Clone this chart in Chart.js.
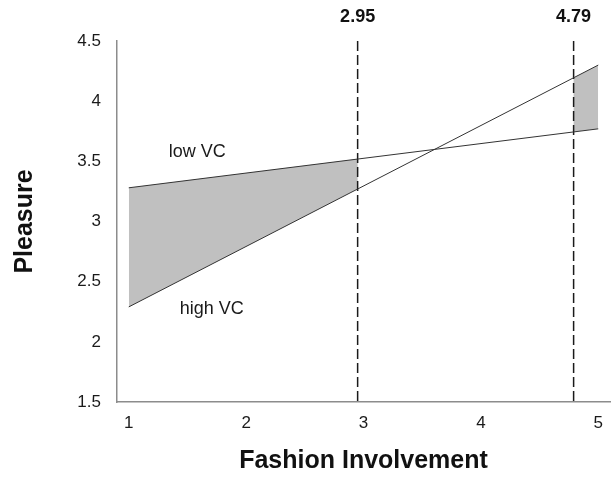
<!DOCTYPE html>
<html>
<head>
<meta charset="utf-8">
<script src="https://cdn.jsdelivr.net/npm/chart.js@4"></script>
<style>
  html, body { margin: 0; padding: 0; background: #ffffff; }
  #wrap { width: 611px; height: 484px; }
</style>
</head>
<body>
<div id="wrap"><canvas id="c" width="611" height="484"></canvas></div>
<script>
// Simple slopes of Pleasure on Fashion Involvement at low / high VC
const involvement = [1, 5];
const lowVC = [3.28, 3.77];
const highVC = [2.29, 4.30];
// Johnson-Neyman boundaries of the significance regions
const cutoffs = [2.95, 4.79];
const xTicks = [1, 2, 3, 4, 5];
const yTicks = [1.5, 2, 2.5, 3, 3.5, 4, 4.5];
const seriesNames = ['low VC', 'high VC'];

const FONT = '"Liberation Sans", Arial, Helvetica, sans-serif';
const SHADE_INDEX = 4;

const toPoints = (xs, ys) => xs.map((x, i) => ({ x, y: ys[i] }));

// Fixed axis box sizes, without extra room reserved for edge labels
const fixHeight = h => s => { s.height = h; s.paddingLeft = 0; s.paddingRight = 0; };

// Restrict the shaded band between the two slopes to the significance regions
const shadeClip = {
  id: 'shadeClip',
  beforeDatasetsDraw(chart) {
    const { ctx, chartArea, scales: { x } } = chart;
    const x0 = x.getPixelForValue(involvement[0]);
    const x1 = x.getPixelForValue(involvement[involvement.length - 1]);
    const a = x.getPixelForValue(cutoffs[0]);
    const b = x.getPixelForValue(cutoffs[1]);
    ctx.save();
    ctx.beginPath();
    ctx.rect(x0, chartArea.top, a - x0, chartArea.height);
    ctx.rect(b, chartArea.top, x1 - b, chartArea.height);
    ctx.clip();
  },
  afterDatasetDraw(chart, args) {
    if (args.index === SHADE_INDEX) chart.ctx.restore();
  }
};

// Series names written next to their lines
const lineLabels = {
  id: 'lineLabels',
  afterDatasetsDraw(chart) {
    const { ctx, scales: { x, y } } = chart;
    const anchors = [
      { text: seriesNames[0], x: 1.34, y: 3.58 },
      { text: seriesNames[1], x: 1.435, y: 2.27 }
    ];
    ctx.save();
    ctx.font = '18px ' + FONT;
    ctx.fillStyle = '#1a1a1a';
    ctx.textAlign = 'left';
    ctx.textBaseline = 'middle';
    anchors.forEach(a => ctx.fillText(a.text, x.getPixelForValue(a.x), y.getPixelForValue(a.y)));
    ctx.restore();
  }
};

const yMin = yTicks[0];
const yMax = yTicks[yTicks.length - 1];

new Chart(document.getElementById('c'), {
  type: 'scatter',
  data: {
    datasets: [
      {
        label: seriesNames[0],
        data: toPoints(involvement, lowVC),
        showLine: true,
        borderColor: '#333333',
        borderWidth: 1,
        pointRadius: 0,
        fill: false
      },
      {
        label: seriesNames[1],
        data: toPoints(involvement, highVC),
        showLine: true,
        borderColor: '#333333',
        borderWidth: 1,
        pointRadius: 0,
        fill: false
      },
      {
        label: String(cutoffs[0]),
        data: [{ x: cutoffs[0], y: yMax }, { x: cutoffs[0], y: yMin }],
        showLine: true,
        borderColor: '#1a1a1a',
        borderWidth: 1.5,
        borderDash: [10, 4],
        pointRadius: 0,
        fill: false
      },
      {
        label: String(cutoffs[1]),
        data: [{ x: cutoffs[1], y: yMax }, { x: cutoffs[1], y: yMin }],
        showLine: true,
        borderColor: '#1a1a1a',
        borderWidth: 1.5,
        borderDash: [10, 4],
        pointRadius: 0,
        fill: false
      },
      {
        label: 'region',
        data: toPoints(involvement, lowVC),
        showLine: true,
        borderWidth: 0,
        borderColor: 'rgba(0,0,0,0)',
        backgroundColor: '#c0c0c0',
        pointRadius: 0,
        fill: 1
      }
    ]
  },
  options: {
    responsive: false,
    animation: false,
    layout: { padding: { left: 0, right: 1, top: 0, bottom: 0 } },
    plugins: {
      legend: { display: false },
      tooltip: { enabled: false },
      filler: { propagate: false }
    },
    scales: {
      x: {
        type: 'linear',
        position: 'bottom',
        min: 0.9,
        max: 5.1,
        afterBuildTicks: s => { s.ticks = xTicks.map(v => ({ value: v })); },
        afterFit: fixHeight(82),
        grid: { display: false, drawTicks: false },
        border: { display: true, color: '#8c8c8c', width: 1.5 },
        ticks: { color: '#1a1a1a', font: { family: FONT, size: 17 }, padding: 11, maxRotation: 0, callback: v => String(v) },
        title: {
          display: true,
          text: 'Fashion Involvement',
          color: '#111111',
          font: { family: FONT, size: 25, weight: 'bold' },
          padding: { top: 0, bottom: 8 }
        }
      },
      x2: {
        type: 'linear',
        position: 'top',
        min: 0.9,
        max: 5.1,
        afterBuildTicks: s => { s.ticks = cutoffs.map(v => ({ value: v })); },
        afterFit: fixHeight(41),
        grid: { display: false, drawTicks: false },
        border: { display: false },
        ticks: {
          color: '#111111',
          font: { family: FONT, size: 18, weight: 'bold' },
          padding: 13,
          maxRotation: 0,
          callback: v => Number(v).toFixed(2)
        }
      },
      y: {
        type: 'linear',
        position: 'left',
        min: yMin,
        max: yMax,
        afterBuildTicks: s => { s.ticks = yTicks.map(v => ({ value: v })); },
        afterFit: s => { s.width = 117; s.paddingTop = 0; s.paddingBottom = 0; },
        grid: { display: false, drawTicks: false },
        border: { display: true, color: '#8c8c8c', width: 1.5 },
        ticks: { color: '#1a1a1a', font: { family: FONT, size: 17 }, padding: 16, callback: v => String(v) },
        title: {
          display: true,
          text: 'Pleasure',
          color: '#111111',
          font: { family: FONT, size: 25, weight: 'bold' },
          padding: { top: 10, bottom: 0 }
        }
      }
    }
  },
  plugins: [shadeClip, lineLabels]
});
</script>
</body>
</html>
